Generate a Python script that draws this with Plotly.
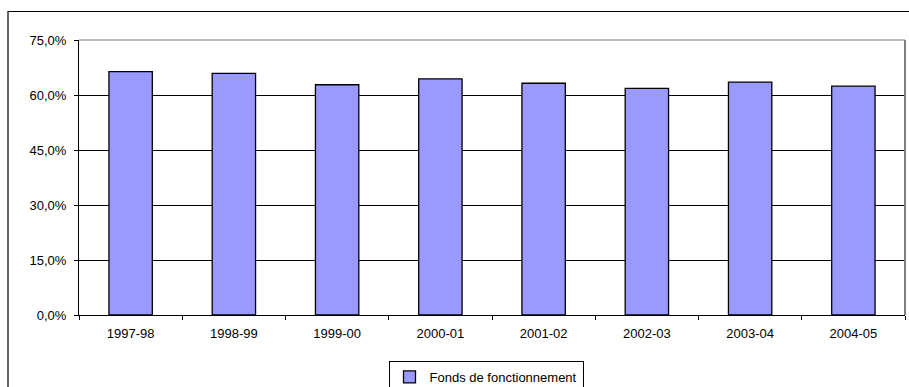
import plotly.graph_objects as go

# Operating fund share by fiscal year (percent)
years = ["1997-98", "1998-99", "1999-00", "2000-01", "2001-02", "2002-03", "2003-04", "2004-05"]
fonds_fonctionnement = [66.4, 65.9, 62.8, 64.4, 63.2, 61.8, 63.5, 62.4]
y_ticks = [0, 15, 30, 45, 60, 75]
y_tick_text = [f"{v:.1f}".replace(".", ",") + "%" for v in y_ticks]

W, H = 909, 387
L, R, T, B = 79, 4, 40, 72
pw, ph = W - L - R, H - T - B

def px_x(x):
    return (x - L) / pw

def px_y(y):
    return (H - B - y) / ph

FONT = "Liberation Sans, Arial, sans-serif"

fig = go.Figure()
fig.add_trace(go.Bar(
    x=years,
    y=fonds_fonctionnement,
    name="Fonds de fonctionnement",
    marker=dict(color="#9999FF", line=dict(color="#000000", width=1.3)),
    hoverinfo="x+y",
))

fig.update_layout(
    width=W, height=H,
    margin=dict(l=L, r=R, t=T, b=B, pad=0, autoexpand=False),
    paper_bgcolor="white",
    plot_bgcolor="white",
    bargap=0.58,
    font=dict(family=FONT, size=12, color="#000000"),
    showlegend=True,
    legend=dict(
        x=px_x(486), xanchor="center",
        y=px_y(361), yanchor="top",
        bordercolor="#000000", borderwidth=1,
        bgcolor="white",
        font=dict(family=FONT, size=13, color="#000000"),
        itemwidth=30,
        tracegroupgap=0,
    ),
    xaxis=dict(
        type="category",
        automargin=False,
        showgrid=False,
        showline=True, linecolor="#000000", linewidth=1,
        ticks="outside", ticklen=4, tickcolor="#000000",
        tickson="boundaries",
        ticklabelstandoff=6,
        tickfont=dict(family=FONT, size=13, color="#000000"),
        zeroline=False,
        fixedrange=True,
    ),
    yaxis=dict(
        range=[0, 75],
        automargin=False,
        tickmode="array",
        tickvals=y_ticks,
        ticktext=y_tick_text,
        showgrid=True, gridcolor="#000000", gridwidth=1,
        showline=True, linecolor="#000000", linewidth=1,
        ticks="outside", ticklen=4, tickcolor="#000000",
        ticklabelstandoff=5,
        tickfont=dict(family=FONT, size=13, color="#000000"),
        zeroline=False,
        fixedrange=True,
    ),
    shapes=[
        # outer chart frame
        dict(type="rect", xref="paper", yref="paper",
             x0=px_x(8), x1=px_x(915), y0=px_y(395), y1=px_y(11.5),
             line=dict(color="#000000", width=1.2), fillcolor="rgba(0,0,0,0)", layer="below"),
        # plot area top and right border
        dict(type="line", xref="paper", yref="paper", x0=0, x1=1, y0=1, y1=1,
             line=dict(color="#808080", width=1.2), layer="above"),
        dict(type="line", xref="paper", yref="paper", x0=1, x1=1, y0=0, y1=1,
             line=dict(color="#808080", width=2), layer="above"),
    ],
)

fig.write_html("out.html")
